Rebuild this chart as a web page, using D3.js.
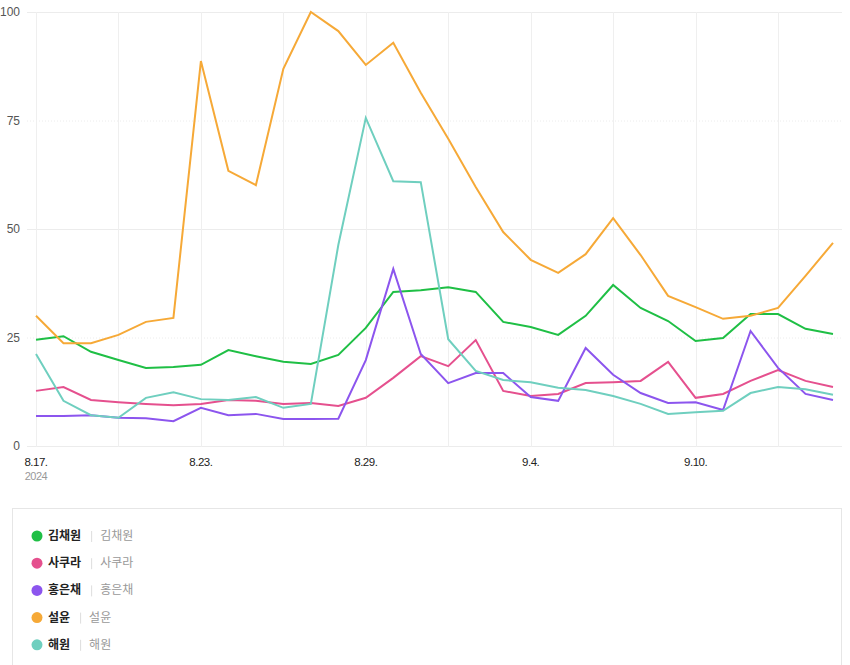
<!DOCTYPE html>
<html>
<head>
<meta charset="utf-8">
<script src="https://cdn.jsdelivr.net/npm/d3@7"></script>
<style>
  body { margin: 0; background: #fff; }
  svg { display: block; font-family: "Liberation Sans", "Noto Sans CJK KR", sans-serif; }
</style>
</head>
<body>
<div id="chart"></div>
<script>
// data: daily values 2024-08-17 .. 2024-09-15
const startDate = new Date(2024, 7, 17);
const dayCount = 30;
const names = ["김채원", "사쿠라", "홍은채", "설윤", "해원"];
const colors = ["#1fbf45", "#e5508e", "#8c55ee", "#f6a937", "#6fcfbf"];

const kimChaewon = [24.5, 25.3, 21.7, 19.8, 18.0, 18.2, 18.7, 22.1, 20.7, 19.4, 18.9, 21.0, 27.2, 35.5, 35.9, 36.6, 35.5, 28.6, 27.4, 25.6, 30.0, 37.1, 31.8, 28.8, 24.2, 24.9, 30.4, 30.4, 27.0, 25.8];
const sakura = [12.7, 13.6, 10.6, 10.1, 9.7, 9.4, 9.7, 10.6, 10.4, 9.7, 9.9, 9.2, 11.1, 15.7, 20.7, 18.4, 24.4, 12.7, 11.5, 12.0, 14.5, 14.7, 15.0, 19.4, 11.1, 12.0, 15.0, 17.5, 15.0, 13.6];
const hongEunchae = [6.9, 6.9, 7.1, 6.5, 6.4, 5.7, 8.8, 7.1, 7.4, 6.2, 6.2, 6.3, 19.8, 40.8, 21.2, 14.5, 16.8, 16.8, 11.3, 10.4, 22.6, 16.4, 12.2, 9.9, 10.1, 8.3, 26.5, 18.0, 12.0, 10.6];
const sullyoon = [30.0, 23.7, 23.7, 25.6, 28.6, 29.5, 88.7, 63.4, 60.1, 86.9, 100, 95.6, 87.8, 92.9, 81.4, 70.8, 59.7, 49.3, 42.9, 39.9, 44.2, 52.5, 44.0, 34.6, 32.0, 29.3, 30.0, 31.8, 39.2, 46.8];
const haewon = [21.2, 10.4, 7.1, 6.5, 11.1, 12.4, 10.8, 10.6, 11.3, 8.8, 9.7, 46.3, 75.6, 61.0, 60.8, 24.6, 17.3, 15.2, 14.7, 13.4, 12.9, 11.5, 9.7, 7.4, 7.8, 8.1, 12.2, 13.6, 13.1, 11.8];
const seriesValues = [kimChaewon, sakura, hongEunchae, sullyoon, haewon];

const yTicks = [0, 25, 50, 75, 100];

const width = 850, height = 665;
const dates = d3.range(dayCount).map(i => d3.timeDay.offset(startDate, i));

const svg = d3.select("#chart").append("svg")
    .attr("width", width)
    .attr("height", height);

const x = d3.scaleTime()
    .domain([dates[0], dates[dates.length - 1]])
    .range([36, 833]);

const y = d3.scaleLinear()
    .domain([0, 100])
    .range([446, 12]);

// horizontal grid
svg.append("g")
    .selectAll("line")
    .data(yTicks)
    .join("line")
    .attr("x1", 27)
    .attr("x2", 842)
    .attr("y1", d => y(d) + 0.5)
    .attr("y2", d => y(d) + 0.5)
    .attr("stroke", "#ececec")
    .attr("stroke-width", 1)
    .attr("stroke-dasharray", d => (d === 25 || d === 75) ? "1,2" : null);

// vertical grid, every 3 days
const gridDates = dates.filter((d, i) => i % 3 === 0);
svg.append("g")
    .selectAll("line")
    .data(gridDates)
    .join("line")
    .attr("x1", d => Math.round(x(d)) + 0.5)
    .attr("x2", d => Math.round(x(d)) + 0.5)
    .attr("y1", 12)
    .attr("y2", 447)
    .attr("stroke", "#efefef");

// y labels
svg.append("g")
    .selectAll("text")
    .data(yTicks)
    .join("text")
    .attr("x", 20)
    .attr("y", d => y(d) + 4)
    .attr("text-anchor", "end")
    .attr("fill", "#555")
    .style("font-size", "12px")
    .text(d => d);

// x labels, every 6 days
const fmt = d3.timeFormat("%-m.%-d.");
const labelDates = dates.filter((d, i) => i % 6 === 0);
svg.append("g")
    .selectAll("text")
    .data(labelDates)
    .join("text")
    .attr("x", d => x(d))
    .attr("y", 466)
    .attr("text-anchor", "middle")
    .attr("fill", "#222")
    .style("font-size", "11.5px")
    .style("letter-spacing", "-0.5px")
    .text(d => fmt(d));

svg.append("text")
    .attr("x", x(dates[0]))
    .attr("y", 480)
    .attr("text-anchor", "middle")
    .attr("fill", "#999")
    .style("font-size", "11px")
    .style("letter-spacing", "-0.5px")
    .text("2024");

// lines
const line = d3.line()
    .x((d, i) => x(dates[i]))
    .y(d => y(d));

svg.append("g")
    .selectAll("path")
    .data(seriesValues)
    .join("path")
    .attr("d", d => line(d))
    .attr("fill", "none")
    .attr("stroke", (d, i) => colors[i])
    .attr("stroke-width", 2)
    .attr("stroke-linejoin", "miter");

// legend
svg.append("rect")
    .attr("x", 12.5)
    .attr("y", 508.5)
    .attr("width", 829)
    .attr("height", 180)
    .attr("fill", "#fff")
    .attr("stroke", "#e6e6e6");

const legend = svg.append("g")
    .selectAll("g")
    .data(names)
    .join("g")
    .attr("transform", (d, i) => `translate(0, ${536 + i * 27.2})`);

legend.append("circle")
    .attr("cx", 37)
    .attr("cy", 0)
    .attr("r", 5.5)
    .attr("fill", (d, i) => colors[i]);

legend.each(function (d) {
    const g = d3.select(this);
    const label = g.append("text")
        .attr("x", 48)
        .attr("y", 4)
        .attr("fill", "#222")
        .style("font-family", "'Noto Sans CJK KR', sans-serif")
        .style("font-size", "12px")
        .style("font-weight", "bold")
        .text(d);
    const w = label.node().getComputedTextLength();
    g.append("line")
        .attr("x1", 48 + w + 10.5)
        .attr("x2", 48 + w + 10.5)
        .attr("y1", -5)
        .attr("y2", 6)
        .attr("stroke", "#ddd");
    g.append("text")
        .attr("x", 48 + w + 19)
        .attr("y", 4)
        .attr("fill", "#999")
        .style("font-family", "'Noto Sans CJK KR', sans-serif")
        .style("font-size", "12px")
        .text(d);
});
</script>
</body>
</html>
